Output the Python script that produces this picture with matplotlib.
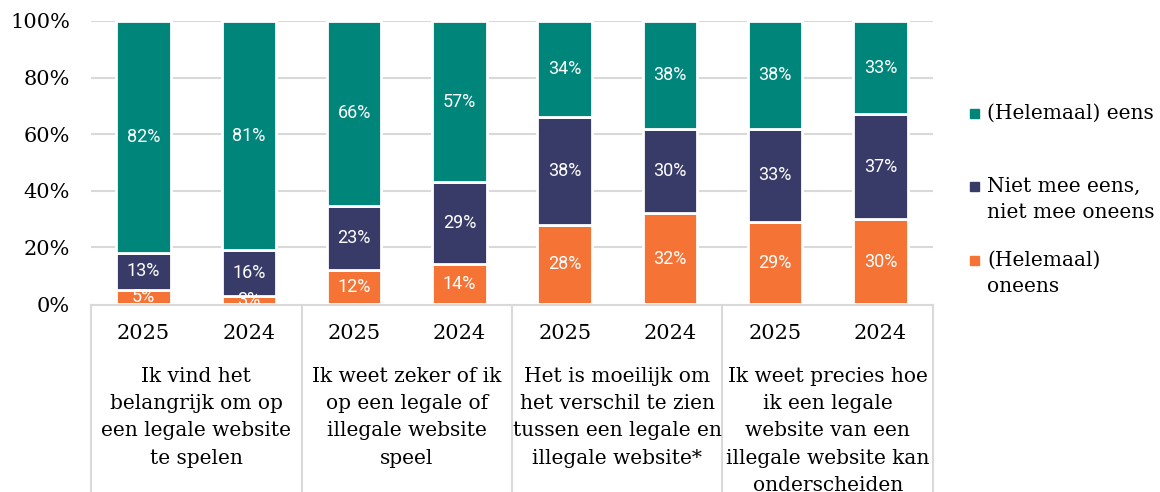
import numpy as np
import matplotlib.pyplot as plt
from matplotlib.patches import Rectangle

# survey answers per statement, each statement has a 2025 and a 2024 bar
statements = [
    "Ik vind het\nbelangrijk om op\neen legale website\nte spelen",
    "Ik weet zeker of ik\nop een legale of\nillegale website\nspeel",
    "Het is moeilijk om\nhet verschil te zien\ntussen een legale en\nillegale website*",
    "Ik weet precies hoe\nik een legale\nwebsite van een\nillegale website kan\nonderscheiden",
]
years = ["2025", "2024"] * 4
eens = [82, 81, 66, 57, 34, 38, 38, 33]
neutraal = [13, 16, 23, 29, 38, 30, 33, 37]
oneens = [5, 3, 12, 14, 28, 32, 29, 30]

series = [
    ("(Helemaal)\noneens", oneens, "#F47335"),
    ("Niet mee eens,\nniet mee oneens", neutraal, "#383A68"),
    ("(Helemaal) eens", eens, "#00857A"),
]

serif = ["DejaVu Serif"]
sans = ["Roboto", "DejaVu Sans"]
grey = "#d9d9d9"

W, H = 1160, 492
fig = plt.figure(figsize=(W / 100, H / 100), dpi=100)
ax = fig.add_axes([91 / W, 188 / H, (933 - 91) / W, 283 / H])

x = np.arange(len(years))
totals = np.array(eens) + np.array(neutraal) + np.array(oneens)
bottom = np.zeros(len(x))
for name, vals, col in series:
    h = np.array(vals) / totals * 100  # 100% stacked
    ax.bar(x, h, 0.52, bottom=bottom, color=col, edgecolor="white",
           linewidth=2, zorder=3)
    for xi, b, hi, v in zip(x, bottom, h, vals):
        ax.text(xi, b + hi / 2, f"{v}%", ha="center", va="center",
                color="white", fontsize=13, family=sans, zorder=4,
                clip_on=True)
    bottom += h

ax.set_xlim(-0.5, len(x) - 0.5)
ax.set_ylim(0, 100)
ax.set_yticks(np.arange(0, 101, 20))
ax.set_yticklabels([f"{t}%" for t in range(0, 101, 20)], family=serif,
                   fontsize=15)
ax.tick_params(axis="y", length=0, pad=15)
ax.set_xticks([])
for t in range(20, 101, 20):
    ax.axhline(t, color=grey, linewidth=1.5, zorder=1)
for s in ax.spines.values():
    s.set_visible(False)

# category table under the bars
tb = -(H - 304) / 283
ax.plot([0, 1], [-0.004, -0.004], transform=ax.transAxes, color=grey,
        linewidth=1.5, clip_on=False)
for g in range(5):
    gx = g / 4
    ax.plot([gx, gx], [-0.004, tb], transform=ax.transAxes, color=grey,
            linewidth=1.5, clip_on=False)
for xi, yr in zip(x, years):
    ax.text(xi, -0.106, yr, transform=ax.get_xaxis_transform(),
            ha="center", va="center", fontsize=15, family=serif)
for g, lab in enumerate(statements):
    ax.text(2 * g + 0.5, -0.222, lab, transform=ax.get_xaxis_transform(),
            ha="center", va="top", fontsize=14.5, family=serif,
            linespacing=1.55)

# legend on the right
leg = [
    ("(Helemaal) eens", "#00857A", 113),
    ("Niet mee eens,\nniet mee oneens", "#383A68", 186),
    ("(Helemaal)\noneens", "#F47335", 260),
]
for lab, col, yc in leg:
    fig.add_artist(Rectangle((970 / W, (H - yc - 4.5) / H), 9 / W, 9 / H,
                             color=col, transform=fig.transFigure))
    fig.text(987 / W, (H - yc + 9) / H, lab, ha="left", va="top",
             fontsize=14.5, family=serif, linespacing=1.45)

fig.savefig("out.png", dpi=100)
